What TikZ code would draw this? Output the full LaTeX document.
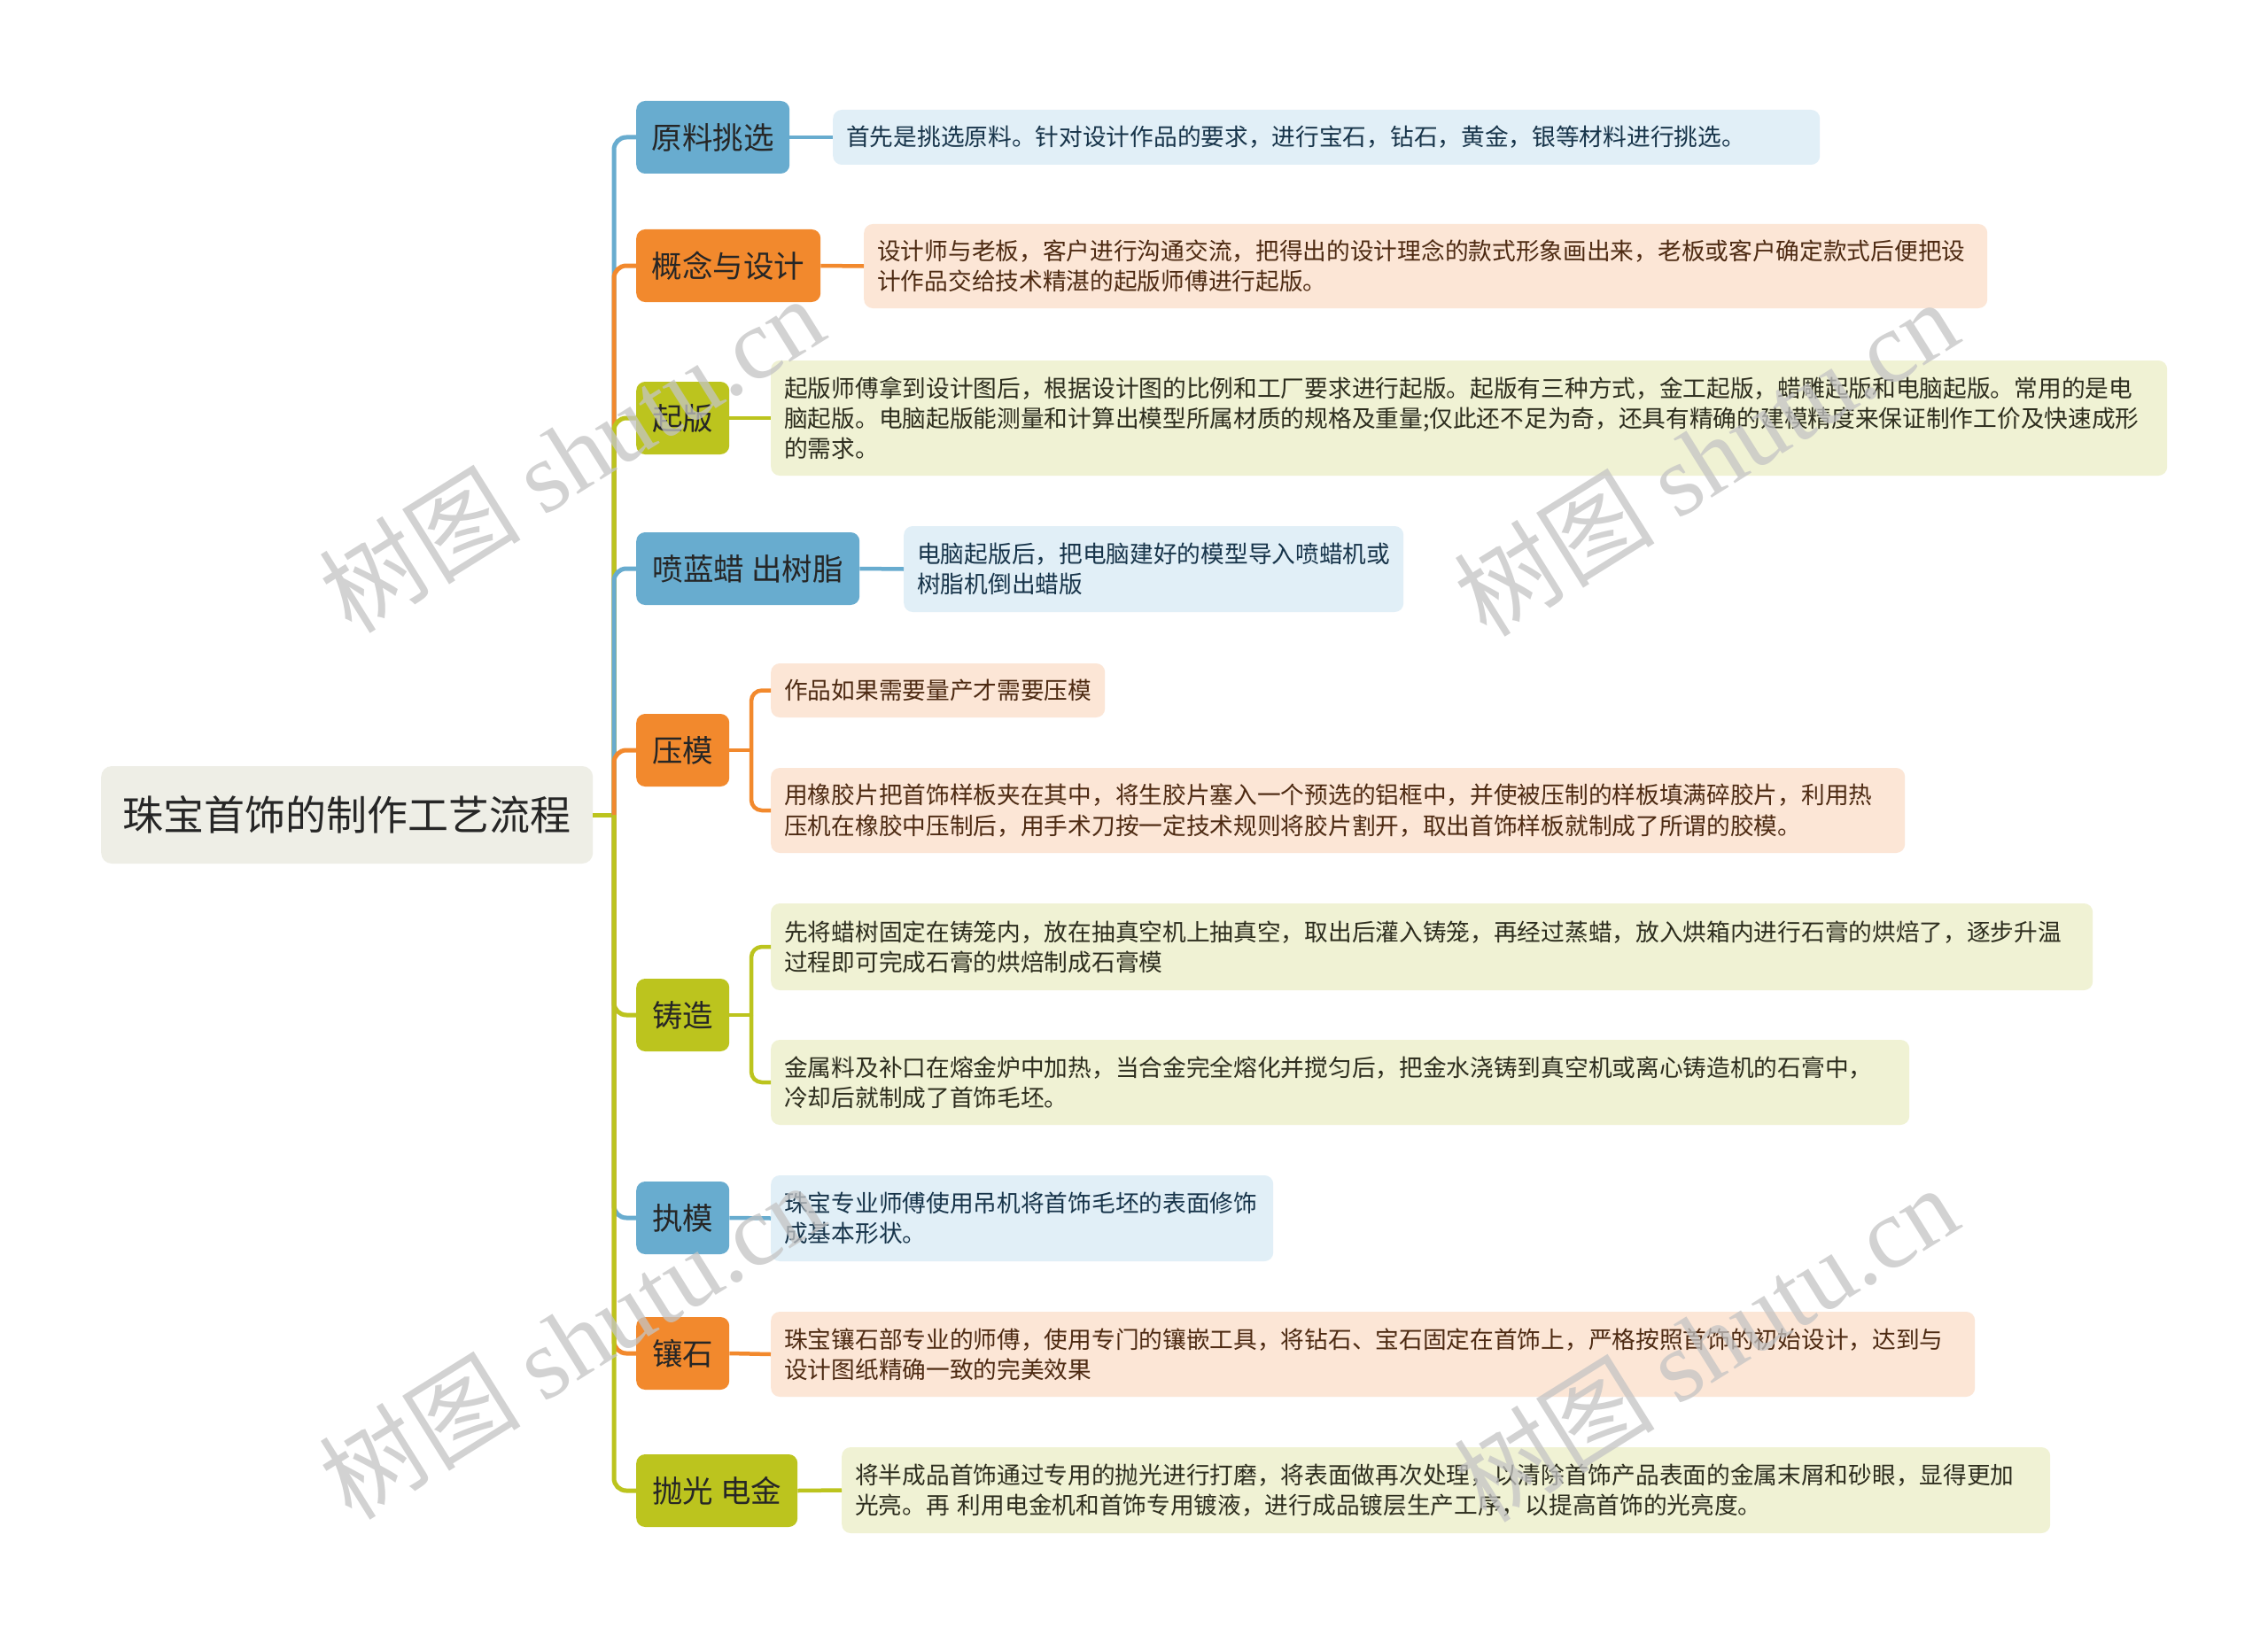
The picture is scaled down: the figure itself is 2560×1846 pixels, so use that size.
\documentclass[tikz,border=0pt]{standalone}
\usepackage{fontspec}
\setmainfont{Noto Sans CJK SC}
\newfontfamily\wmserif{Liberation Serif}
\definecolor{blueN}{RGB}{104,172,207}
\definecolor{orangeN}{RGB}{242,137,45}
\definecolor{greenN}{RGB}{188,196,30}
\definecolor{blueL}{RGB}{225,239,247}
\definecolor{orangeL}{RGB}{252,230,214}
\definecolor{greenL}{RGB}{240,242,212}
\definecolor{rootF}{RGB}{238,238,230}
\definecolor{txtDark}{RGB}{38,38,38}
\definecolor{blueT}{RGB}{23,52,74}
\definecolor{orangeT}{RGB}{77,42,18}
\definecolor{greenT}{RGB}{45,45,30}
\definecolor{wmC}{RGB}{196,196,196}
\tikzset{
  rootbox/.style={rounded corners=12pt, fill=rootF, anchor=west, inner sep=0pt,
    minimum width=555pt, minimum height=110pt, text=txtDark,
    font=\fontsize{46}{52}\selectfont},
  lone/.style={rounded corners=10pt, minimum height=82pt, inner sep=0pt, anchor=west,
    text=txtDark, font=\fontsize{34.5}{40}\selectfont},
  ltwo/.style={rounded corners=10pt, inner xsep=15pt, inner ysep=0pt, anchor=west,
    align=left, font=\fontsize{26.7}{34.3}\selectfont},
  bluebox/.style={ltwo, fill=blueL, text=blueT},
  orangebox/.style={ltwo, fill=orangeL, text=orangeT},
  greenbox/.style={ltwo, fill=greenL, text=greenT},
  spine/.style={line width=5pt, rounded corners=14pt},
  link/.style={line width=4.5pt},
  bracket/.style={line width=4.5pt, rounded corners=12pt},
  wm/.style={rotate=32, text=wmC, text opacity=0.75, font=\fontsize{114}{114}\selectfont, inner sep=0pt}
}
\begin{document}
\begin{tikzpicture}[x=1pt,y=-1pt]
\useasboundingbox (0,0) rectangle (2560,1846);
\fill[white] (0,0) rectangle (2560,1846);

% root
\node[rootbox] (root) at (114,920) {珠宝首饰的制作工艺流程};

% level one
\node[lone, fill=blueN, minimum width=173pt] (n1) at (718,155) {原料挑选};
\node[lone, fill=orangeN, minimum width=208pt] (n2) at (718,300) {概念与设计};
\node[lone, fill=greenN, minimum width=105pt] (n3) at (718,472) {起版};
\node[lone, fill=blueN, minimum width=252pt] (n4) at (718,642) {喷蓝蜡 出树脂};
\node[lone, fill=orangeN, minimum width=105pt] (n5) at (718,847) {压模};
\node[lone, fill=greenN, minimum width=105pt] (n6) at (718,1146) {铸造};
\node[lone, fill=blueN, minimum width=105pt] (n7) at (718,1375) {执模};
\node[lone, fill=orangeN, minimum width=105pt] (n8) at (718,1528) {镶石};
\node[lone, fill=greenN, minimum width=182pt] (n9) at (718,1683) {抛光 电金};

% level two
\node[bluebox, text width=1084pt, minimum height=62pt] (b1) at (940,155)
  {首先是挑选原料。针对设计作品的要求，进行宝石，钻石，黄金，银等材料进行挑选。};
\node[orangebox, text width=1238pt, minimum height=95pt] (b2) at (975,300.5)
  {设计师与老板，客户进行沟通交流，把得出的设计理念的款式形象画出来，老板或客户确定款式后便把设\\计作品交给技术精湛的起版师傅进行起版。};
\node[greenbox, text width=1546pt, minimum height=130pt] (b3) at (870,472)
  {起版师傅拿到设计图后，根据设计图的比例和工厂要求进行起版。起版有三种方式，金工起版，蜡雕起版和电脑起版。常用的是电\\脑起版。电脑起版能测量和计算出模型所属材质的规格及重量;仅此还不足为奇，还具有精确的建模精度来保证制作工价及快速成形\\的需求。};
\node[bluebox, text width=534pt, minimum height=97pt] (b4) at (1020,642.5)
  {电脑起版后，把电脑建好的模型导入喷蜡机或\\树脂机倒出蜡版};
\node[orangebox, text width=347pt, minimum height=61pt] (b5a) at (870,779.5)
  {作品如果需要量产才需要压模};
\node[orangebox, text width=1250pt, minimum height=96pt] (b5b) at (870,915)
  {用橡胶片把首饰样板夹在其中，将生胶片塞入一个预选的铝框中，并使被压制的样板填满碎胶片，利用热\\压机在橡胶中压制后，用手术刀按一定技术规则将胶片割开，取出首饰样板就制成了所谓的胶模。};
\node[greenbox, text width=1462pt, minimum height=98pt] (b6a) at (870,1069)
  {先将蜡树固定在铸笼内，放在抽真空机上抽真空，取出后灌入铸笼，再经过蒸蜡，放入烘箱内进行石膏的烘焙了，逐步升温\\过程即可完成石膏的烘焙制成石膏模};
\node[greenbox, text width=1255pt, minimum height=96pt] (b6b) at (870,1222)
  {金属料及补口在熔金炉中加热，当合金完全熔化并搅匀后，把金水浇铸到真空机或离心铸造机的石膏中，\\冷却后就制成了首饰毛坯。};
\node[bluebox, text width=537pt, minimum height=97pt] (b7) at (870,1375.5)
  {珠宝专业师傅使用吊机将首饰毛坯的表面修饰\\成基本形状。};
\node[orangebox, text width=1329pt, minimum height=96pt] (b8) at (870,1529)
  {珠宝镶石部专业的师傅，使用专门的镶嵌工具，将钻石、宝石固定在首饰上，严格按照首饰的初始设计，达到与\\设计图纸精确一致的完美效果};
\node[greenbox, text width=1334pt, minimum height=97pt] (b9) at (950,1682.5)
  {将半成品首饰通过专用的抛光进行打磨，将表面做再次处理，以清除首饰产品表面的金属末屑和砂眼，显得更加\\光亮。再 利用电金机和首饰专用镀液，进行成品镀层生产工序，以提高首饰的光亮度。};

% spine connectors
\coordinate (sp) at (693,920);
\draw[line width=5pt, draw=greenN] (root.east) -- (sp);
\draw[spine, draw=blueN] (sp) |- (n1.west);
\draw[spine, draw=orangeN] (sp) |- (n2.west);
\draw[spine, draw=greenN] (sp) |- (n3.west);
\draw[spine, draw=blueN] (sp) |- (n4.west);
\draw[spine, draw=orangeN] (sp) |- (n5.west);
\draw[spine, draw=greenN] (sp) |- (n6.west);
\draw[spine, draw=blueN] (sp) |- (n7.west);
\draw[spine, draw=orangeN] (sp) |- (n8.west);
\draw[spine, draw=greenN] (sp) |- (n9.west);

% level one to level two
\draw[link, draw=blueN] (n1.east) -- (b1.west);
\draw[link, draw=orangeN] (n2.east) -- (b2.west);
\draw[link, draw=greenN] (n3.east) -- (b3.west);
\draw[link, draw=blueN] (n4.east) -- (b4.west);
\coordinate (j5) at (848,847);
\draw[link, draw=orangeN] (n5.east) -- (j5);
\draw[bracket, draw=orangeN] (j5) |- (b5a.west);
\draw[bracket, draw=orangeN] (j5) |- (b5b.west);
\coordinate (j6) at (848,1146);
\draw[link, draw=greenN] (n6.east) -- (j6);
\draw[bracket, draw=greenN] (j6) |- (b6a.west);
\draw[bracket, draw=greenN] (j6) |- (b6b.west);
\draw[link, draw=blueN] (n7.east) -- (b7.west);
\draw[link, draw=orangeN] (n8.east) -- (b8.west);
\draw[link, draw=greenN] (n9.east) -- (b9.west);

% watermarks
\node[wm] (w1) at (645,512) {树图 {\wmserif shutu.cn}};
\node[wm] (w2) at (1925,516) {树图 {\wmserif shutu.cn}};
\node[wm] (w3) at (645,1513) {树图 {\wmserif shutu.cn}};
\node[wm] (w4) at (1925,1516) {树图 {\wmserif shutu.cn}};
\end{tikzpicture}
\end{document}
